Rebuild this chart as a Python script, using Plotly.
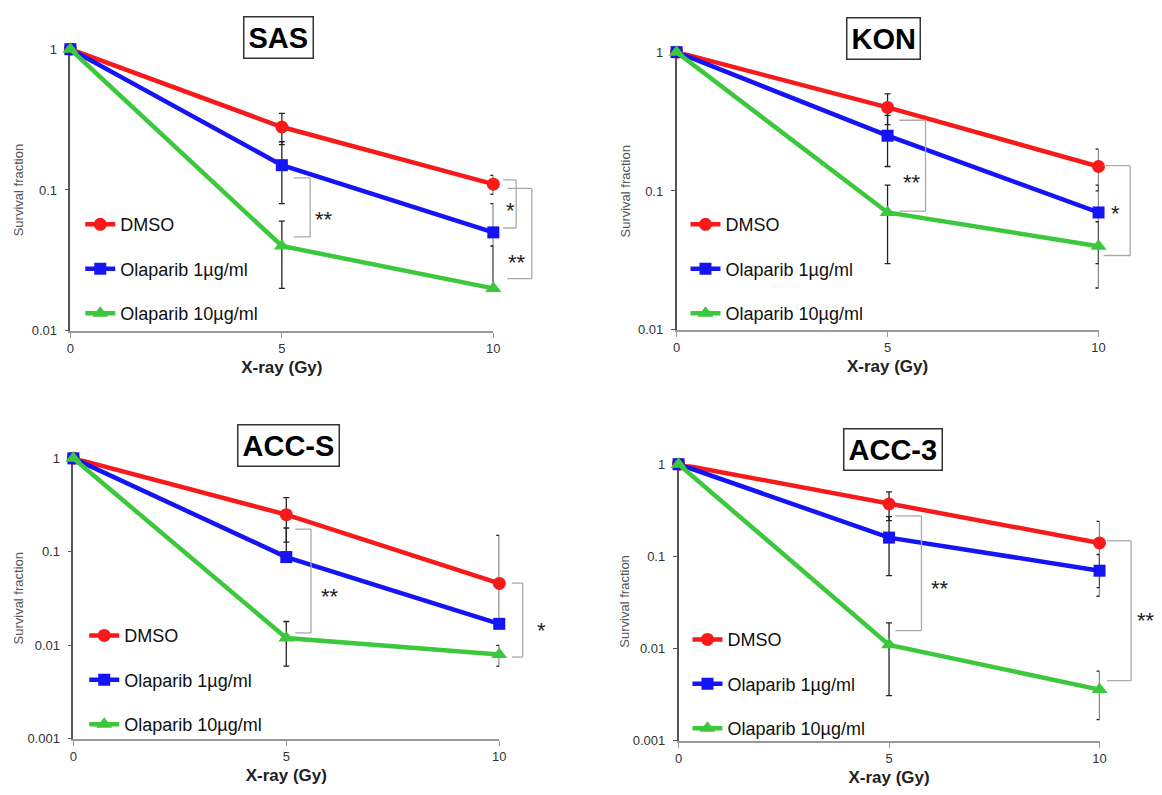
import math
import plotly.graph_objects as go

W, H = 1162, 795

# ---------------- data ----------------
DOSE = [0, 5, 10]
GROUPS = ["DMSO", "Olaparib 1µg/ml", "Olaparib 10µg/ml"]
X_TICKS = [0, 5, 10]
Y_TICKS_TOP = [0.01, 0.1, 1]
Y_TICKTEXT_TOP = ["0.01", "0.1", "1"]
Y_TICKS_BOT = [0.001, 0.01, 0.1, 1]
Y_TICKTEXT_BOT = ["0.001", "0.01", "0.1", "1"]

# SAS
SAS_DMSO = [1, 0.28, 0.11]
SAS_DMSO_HI = [1, 0.35, 0.127]
SAS_DMSO_LO = [1, 0.21, 0.093]
SAS_OLA1 = [1, 0.15, 0.05]
SAS_OLA1_HI = [1, 0.22, 0.08]
SAS_OLA1_LO = [1, 0.08, 0.02]
SAS_OLA10 = [1, 0.04, 0.02]
SAS_OLA10_HI = [1, 0.06, 0.04]
SAS_OLA10_LO = [1, 0.02, 0.02]

# KON
KON_DMSO = [1, 0.40, 0.15]
KON_DMSO_HI = [1, 0.50, 0.20]
KON_DMSO_LO = [1, 0.30, 0.10]
KON_OLA1 = [1, 0.25, 0.07]
KON_OLA1_HI = [1, 0.35, 0.11]
KON_OLA1_LO = [1, 0.15, 0.03]
KON_OLA10 = [1, 0.07, 0.04]
KON_OLA10_HI = [1, 0.11, 0.06]
KON_OLA10_LO = [1, 0.03, 0.02]

# ACC-S
ACCS_DMSO = [1, 0.25, 0.046]
ACCS_DMSO_HI = [1, 0.38, 0.15]
ACCS_DMSO_LO = [1, 0.127, 0.017]
ACCS_OLA1 = [1, 0.088, 0.017]
ACCS_OLA1_HI = [1, 0.18, 0.017]
ACCS_OLA1_LO = [1, 0.088, 0.017]
ACCS_OLA10 = [1, 0.012, 0.008]
ACCS_OLA10_HI = [1, 0.018, 0.010]
ACCS_OLA10_LO = [1, 0.006, 0.006]

# ACC-3
ACC3_DMSO = [1, 0.37, 0.14]
ACC3_DMSO_HI = [1, 0.50, 0.24]
ACC3_DMSO_LO = [1, 0.245, 0.046]
ACC3_OLA1 = [1, 0.16, 0.07]
ACC3_OLA1_HI = [1, 0.27, 0.105]
ACC3_OLA1_LO = [1, 0.062, 0.037]
ACC3_OLA10 = [1, 0.011, 0.0036]
ACC3_OLA10_HI = [1, 0.019, 0.0057]
ACC3_OLA10_LO = [1, 0.0031, 0.0017]

# significance brackets: (x_left, x_right, y_top, y_bottom) in data units
SAS_BRACKETS = [(5.28, 5.67, 0.122, 0.0464), (10.23, 10.54, 0.118, 0.0537), (10.33, 10.91, 0.1025, 0.0235)]
SAS_STARS = [(6.0, 0.067, "**"), (10.4, 0.078, "*"), (10.56, 0.033, "**")]
KON_BRACKETS = [(5.28, 5.9, 0.323, 0.0715), (10.12, 10.75, 0.152, 0.0343)]
KON_STARS = [(5.59, 0.125, "**"), (10.4, 0.075, "*")]
ACCS_BRACKETS = [(5.21, 5.58, 0.175, 0.0136), (10.3, 10.55, 0.0464, 0.0075)]
ACCS_STARS = [(6.02, 0.038, "**"), (11.0, 0.0165, "*")]
ACC3_BRACKETS = [(5.15, 5.77, 0.275, 0.0157), (10.18, 10.75, 0.148, 0.0045)]
ACC3_STARS = [(6.2, 0.051, "**"), (11.1, 0.0229, "**")]

# ---------------- layout / style ----------------
COLORS = ["#f71a1a", "#1414f4", "#3cc83c"]
SYMBOLS = ["circle", "square", "triangle-up"]
SIZES = [13, 12, 14]
FONT = "Liberation Sans, Arial, sans-serif"

PANELS = [
    dict(title="SAS", n=1, px=(67, 494), py=(43, 330), yr=(-2, 0),
         yt=(Y_TICKS_TOP, Y_TICKTEXT_TOP),
         series=[(SAS_DMSO, SAS_DMSO_HI, SAS_DMSO_LO), (SAS_OLA1, SAS_OLA1_HI, SAS_OLA1_LO),
                 (SAS_OLA10, SAS_OLA10_HI, SAS_OLA10_LO)],
         brackets=SAS_BRACKETS, stars=SAS_STARS,
         leg=(77, 203), tbox=(277, 31), ytitle=(15, 187)),
    dict(title="KON", n=2, px=(679, 1105), py=(46, 329), yr=(-2, 0),
         yt=(Y_TICKS_TOP, Y_TICKTEXT_TOP),
         series=[(KON_DMSO, KON_DMSO_HI, KON_DMSO_LO), (KON_OLA1, KON_OLA1_HI, KON_OLA1_LO),
                 (KON_OLA10, KON_OLA10_HI, KON_OLA10_LO)],
         brackets=KON_BRACKETS, stars=KON_STARS,
         leg=(688, 203), tbox=(888, 32), ytitle=(627, 188)),
    dict(title="ACC-S", n=3, px=(70, 500), py=(460, 746), yr=(-3, 0),
         yt=(Y_TICKS_BOT, Y_TICKTEXT_BOT),
         series=[(ACCS_DMSO, ACCS_DMSO_HI, ACCS_DMSO_LO), (ACCS_OLA1, ACCS_OLA1_HI, ACCS_OLA1_LO),
                 (ACCS_OLA10, ACCS_OLA10_HI, ACCS_OLA10_LO)],
         brackets=ACCS_BRACKETS, stars=ACCS_STARS,
         leg=(81, 622), tbox=(287, 447), ytitle=(15, 603)),
    dict(title="ACC-3", n=4, px=(681, 1106), py=(466, 748), yr=(-3, 0),
         yt=(Y_TICKS_BOT, Y_TICKTEXT_BOT),
         series=[(ACC3_DMSO, ACC3_DMSO_HI, ACC3_DMSO_LO), (ACC3_OLA1, ACC3_OLA1_HI, ACC3_OLA1_LO),
                 (ACC3_OLA10, ACC3_OLA10_HI, ACC3_OLA10_LO)],
         brackets=ACC3_BRACKETS, stars=ACC3_STARS,
         leg=(690, 626), tbox=(898, 451), ytitle=(627, 606)),
]

fig = go.Figure()
shapes = []
annotations = []
layout = {}

for p in PANELS:
    n = p["n"]
    sfx = "" if n == 1 else str(n)
    xa, ya = "x" + sfx, "y" + sfx
    legname = "legend" + sfx
    for k, (v, hi, lo) in enumerate(p["series"]):
        fig.add_trace(go.Scatter(
            x=DOSE, y=v, mode="lines+markers", name=GROUPS[k],
            xaxis=xa, yaxis=ya, legend=legname, legendgroup=f"{p['title']}{k}",
            line=dict(color=COLORS[k], width=4.5),
            marker=dict(symbol=SYMBOLS[k], size=SIZES[k], color=COLORS[k]),
            error_y=dict(type="data", symmetric=False,
                         array=[h - a for h, a in zip(hi, v)],
                         arrayminus=[a - l for a, l in zip(v, lo)],
                         color="#222", thickness=1.3, width=3),
            cliponaxis=False, hoverinfo="x+y+name",
        ))
    x0, x1 = p["px"]
    y0, y1 = p["py"]
    layout["xaxis" + sfx] = dict(
        domain=[x0 / W, x1 / W], anchor=ya, range=[0, 10], tickvals=X_TICKS,
        ticks="outside", ticklen=5, tickcolor="#999", showline=True, linecolor="#999",
        linewidth=1.5, showgrid=False, zeroline=False, layer="below traces",
        tickfont=dict(size=13, color="#333", family=FONT),
        title=dict(text="<b>X-ray (Gy)</b>", font=dict(size=17, color="#222", family=FONT), standoff=6),
    )
    layout["yaxis" + sfx] = dict(
        domain=[1 - y1 / H, 1 - y0 / H], anchor=xa, type="log", range=list(p["yr"]),
        tickvals=p["yt"][0], ticktext=p["yt"][1],
        ticks="outside", ticklen=4, tickcolor="#555", showline=True, linecolor="#555",
        linewidth=1.5, showgrid=False, zeroline=False, layer="below traces",
        tickfont=dict(size=13, color="#333", family=FONT), ticklabelstandoff=5,
    )
    lx, ly = p["leg"]
    layout[legname] = dict(
        x=lx / W, y=1 - ly / H, xanchor="left", yanchor="top", bgcolor="rgba(0,0,0,0)",
        font=dict(size=18, color="#111", family=FONT), tracegroupgap=18, itemwidth=30,
    )
    # y-axis title
    tx, ty = p["ytitle"]
    annotations.append(dict(
        xref="paper", yref="paper", x=tx / W, y=1 - ty / H, xanchor="center", yanchor="middle",
        text="Survival fraction", textangle=-90, showarrow=False,
        font=dict(size=13, color="#555", family=FONT),
    ))
    # boxed panel title
    bx, by = p["tbox"]
    annotations.append(dict(
        xref="paper", yref="paper", x=bx / W, y=1 - by / H, xanchor="center", yanchor="middle",
        text=f"<b>{p['title']}</b>", showarrow=False, font=dict(size=29, color="#000", family=FONT),
        bordercolor="#333", borderwidth=1.5, borderpad=4, bgcolor="white",
    ))
    # significance brackets
    xr = 10.0
    for (bl, br, bt, bb) in p["brackets"]:
        for (ax0, ay0, ax1, ay1) in [(bl, bt, br, bt), (br, bt, br, bb), (br, bb, bl, bb)]:
            shapes.append(dict(
                type="line", xref=f"{xa} domain", yref=ya,
                x0=ax0 / xr, x1=ax1 / xr, y0=ay0, y1=ay1,
                line=dict(color="#aaa", width=1.3),
            ))
    for (sx, sy, st) in p["stars"]:
        annotations.append(dict(
            xref=f"{xa} domain", yref=ya, x=sx / xr, y=math.log10(sy), text=st,
            xanchor="center", yanchor="middle", showarrow=False,
            font=dict(size=22, color="#222", family=FONT), yshift=-5,
        ))

fig.update_layout(
    width=W, height=H, margin=dict(l=0, r=0, t=0, b=0),
    paper_bgcolor="white", plot_bgcolor="white",
    font=dict(family=FONT), shapes=shapes, annotations=annotations,
    **layout,
)

fig.write_html("out.html")
